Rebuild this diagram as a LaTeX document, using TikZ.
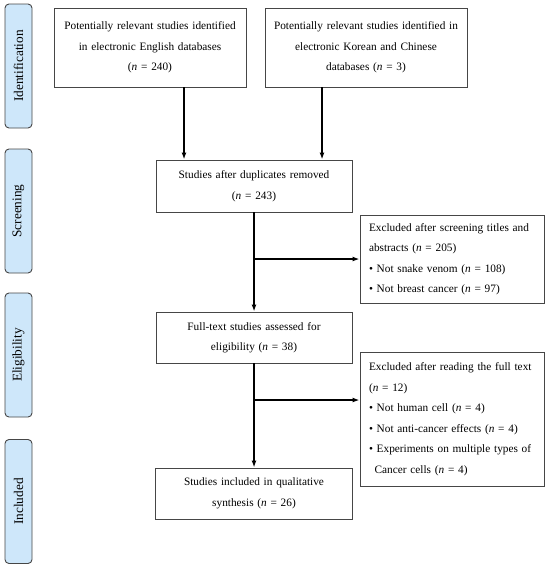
\documentclass[tikz,border=0pt]{standalone}
\usepackage{fontspec}
\setmainfont{Liberation Serif}
\usepackage{tikz}
\usetikzlibrary{arrows.meta, positioning}
\usepackage{xcolor}
\definecolor{stageblue}{RGB}{206, 231, 250}
\definecolor{edgegray}{RGB}{70, 70, 70}

\begin{document}
\begin{tikzpicture}[x=1pt, y=-1pt,
    box/.style={draw=edgegray, line width=0.9pt, align=center, inner xsep=0pt, inner ysep=0pt,
        font=\fontsize{11.3}{20.5}\selectfont},
    excl/.style={box, align=left, inner xsep=9pt},
    stage/.style={draw=edgegray, fill=stageblue, line width=0.9pt, rounded corners=4pt,
        minimum width=27pt, minimum height=124pt, inner sep=0pt},
    stagetext/.style={rotate=90, font=\fontsize{13.3}{13.3}\selectfont},
    arr/.style={-{Latex[length=7pt, width=5pt]}, line width=1.4pt}]
    \useasboundingbox (0,0) rectangle (550,568);

    % stages on the left
    \node[stage] (sid) at (18.5,66) {};
    \node[stagetext] at (sid) {Identification};
    \node[stage] (sscr) at (18.5,211) {};
    \node[stagetext] at (sscr) {Screening};
    \node[stage] (selig) at (18.5,355) {};
    \node[stagetext] at (selig) {Eligibility};
    \node[stage] (sinc) at (18.5,501.5) {};
    \node[stagetext] at (sinc) {Included};

    % main boxes
    \node[box, text width=192pt, minimum height=79pt] (eng) at (150,47.5)
        {Potentially relevant studies identified\\in electronic English databases\\(\textit{n} = 240)};
    \node[box, text width=202pt, minimum height=79pt] (kor) at (366,47.5)
        {Potentially relevant studies identified in\\electronic Korean and Chinese\\databases (\textit{n} = 3)};
    \node[box, text width=196pt, minimum height=52pt] (dup) at (254,186)
        {Studies after duplicates removed\\(\textit{n} = 243)};
    \node[box, text width=196pt, minimum height=51pt] (full) at (254,337.5)
        {Full-text studies assessed for\\eligibility (\textit{n} = 38)};
    \node[box, text width=197pt, minimum height=51pt] (incl) at (254,493.5)
        {Studies included in qualitative\\synthesis (\textit{n} = 26)};

    % exclusion boxes
    \node[excl, text width=166pt, minimum height=88pt] (exc1) at (452,259)
        {Excluded after screening titles and\\abstracts (\textit{n} = 205)\\• Not snake venom (\textit{n} = 108)\\• Not breast cancer (\textit{n} = 97)};
    \node[excl, text width=166pt, minimum height=134pt] (exc2) at (452,419)
        {Excluded after reading the full text\\(\textit{n} = 12)\\• Not human cell (\textit{n} = 4)\\• Not anti-cancer effects (\textit{n} = 4)\\• Experiments on multiple types of\\\hspace*{0.5em}Cancer cells (\textit{n} = 4)};

    % connectors
    \coordinate (c1) at (184,0);
    \coordinate (c2) at (322,0);
    \coordinate (b2) at (0,400);
    \draw[arr] (eng.south -| c1) -- (dup.north -| c1);
    \draw[arr] (kor.south -| c2) -- (dup.north -| c2);
    \draw[arr] (dup.south) -- (full.north);
    \draw[arr] (dup.south |- exc1.west) -- (exc1.west);
    \draw[arr] (full.south) -- (incl.north);
    \draw[arr] (full.south |- b2) -- (exc2.west |- b2);
\end{tikzpicture}
\end{document}
